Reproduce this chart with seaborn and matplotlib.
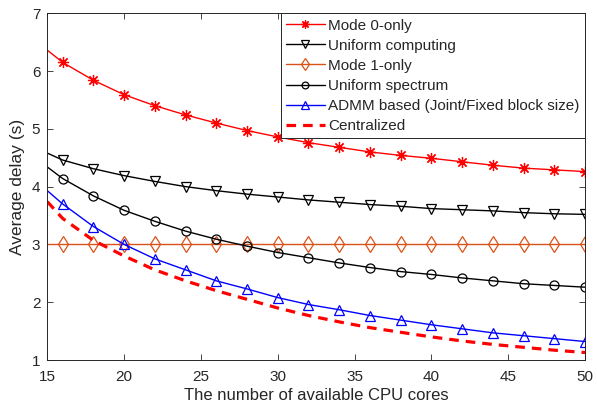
import matplotlib
matplotlib.use("Agg")
import matplotlib.pyplot as plt
import seaborn as sns
import numpy as np

sns.set_style("ticks")
plt.rcParams['font.family'] = ['Liberation Sans', 'DejaVu Sans']

x = [15, 16, 18, 20, 22, 24, 26, 28, 30, 32, 34, 36, 38, 40, 42, 44, 46, 48, 50]
mode0 = [6.36, 6.15, 5.84, 5.59, 5.40, 5.24, 5.10, 4.97, 4.86, 4.76, 4.68, 4.60, 4.54, 4.49, 4.43, 4.37, 4.32, 4.29, 4.26]
uni_comp = [4.58, 4.46, 4.31, 4.19, 4.09, 4.00, 3.93, 3.87, 3.82, 3.77, 3.73, 3.69, 3.66, 3.62, 3.60, 3.58, 3.55, 3.53, 3.52]
mode1 = [3.0] * len(x)
uni_spec = [4.34, 4.14, 3.84, 3.59, 3.40, 3.23, 3.09, 2.97, 2.86, 2.77, 2.68, 2.60, 2.53, 2.48, 2.42, 2.37, 2.32, 2.29, 2.26]
admm = [3.93, 3.70, 3.31, 3.00, 2.75, 2.56, 2.37, 2.23, 2.08, 1.96, 1.87, 1.77, 1.69, 1.61, 1.54, 1.47, 1.42, 1.37, 1.32]
central = [3.74, 3.45, 3.07, 2.80, 2.56, 2.37, 2.20, 2.05, 1.90, 1.77, 1.66, 1.56, 1.48, 1.40, 1.33, 1.27, 1.22, 1.17, 1.13]

labels = ["Mode 0-only", "Uniform computing", "Mode 1-only", "Uniform spectrum",
          "ADMM based (Joint/Fixed block size)", "Centralized"]

fig = plt.figure(figsize=(5.97, 4.08), dpi=100)
ax = fig.add_axes([0.0792, 0.1176, 0.9008, 0.85])

mk = list(range(1, len(x)))
specs = [
    (mode0, 'red', (8, 2, 0), 8, 'red'),
    (uni_comp, 'black', 'v', 7, 'none'),
    (mode1, '#D95319', 'd', 8, 'none'),
    (uni_spec, 'black', 'o', 6.5, 'none'),
    (admm, 'blue', '^', 7, 'none'),
]
for (vals, col, m, ms, fc), lab in zip(specs, labels[:5]):
    sns.lineplot(x=x, y=vals, ax=ax, color=col, marker=m, markersize=ms,
                 markerfacecolor=fc, markeredgecolor=col, markeredgewidth=0.9,
                 markevery=mk, linewidth=1.0, label=lab)
sns.lineplot(x=x, y=central, ax=ax, color='red', linestyle=(0, (3, 2.2)),
             linewidth=2.3, label=labels[5])

ax.set_xlim(15, 50)
ax.set_ylim(1, 7)
ax.set_xticks([15, 20, 25, 30, 35, 40, 45, 50])
ax.set_yticks([1, 2, 3, 4, 5, 6, 7])
ax.tick_params(direction='in', top=True, right=True, labelsize=11, length=4, width=0.6,
               colors='#262626')
ax.tick_params(axis='x', pad=7)
ax.tick_params(axis='y', pad=5)
for s in ax.spines.values():
    s.set_linewidth(0.7)
    s.set_color('#262626')
ax.set_xlabel("The number of available CPU cores", fontsize=12, color='#262626', labelpad=3)
ax.set_ylabel("Average delay (s)", fontsize=12.5, color='#262626', labelpad=5)

leg = ax.legend(loc='upper right', fontsize=11, frameon=True, fancybox=False,
                edgecolor='#262626', framealpha=1, handlelength=2.5,
                labelspacing=0.4, borderpad=0.35, handletextpad=0.25,
                borderaxespad=0.0, markerscale=0.75)
leg.get_frame().set_linewidth(0.7)

fig.savefig("out.png", dpi=100)
